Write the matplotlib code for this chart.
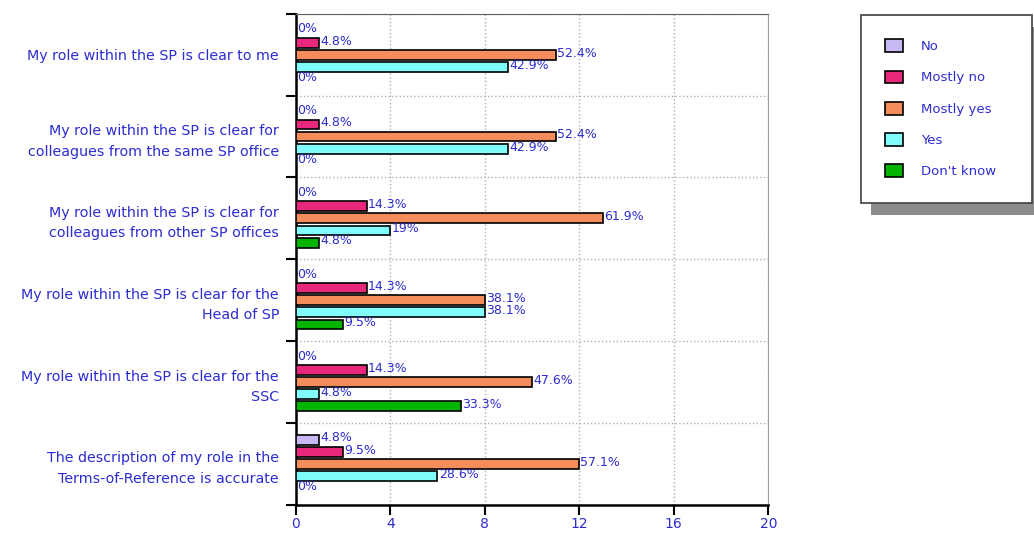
import numpy as np
import matplotlib
matplotlib.use('Agg')
import matplotlib.pyplot as plt
from matplotlib.patches import Rectangle

plt.rcParams['font.family'] = ['DejaVu Sans']

categories = [
    'My role within the SP is clear to me',
    'My role within the SP is clear for\ncolleagues from the same SP office',
    'My role within the SP is clear for\ncolleagues from other SP offices',
    'My role within the SP is clear for the\nHead of SP',
    'My role within the SP is clear for the\nSSC',
    'The description of my role in the\nTerms-of-Reference is accurate',
]
series_names = ['No', 'Mostly no', 'Mostly yes', 'Yes', "Don't know"]
# counts of respondents (21 in total)
no_vals = [0, 0, 0, 0, 0, 1]
mostly_no_vals = [1, 1, 3, 3, 3, 2]
mostly_yes_vals = [11, 11, 13, 8, 10, 12]
yes_vals = [9, 9, 4, 8, 1, 6]
dont_know_vals = [0, 0, 1, 2, 7, 0]
total = 21
xticks = [0, 4, 8, 12, 16, 20]

colors = ['#c8b8f4', '#e8287c', '#f48c5c', '#80fcfc', '#00b400']
txt_col = '#2c2cd0'

series = [no_vals, mostly_no_vals, mostly_yes_vals, yes_vals, dont_know_vals]

fig = plt.figure(figsize=(10.34, 5.33), dpi=100)
ax = fig.add_axes([0.286, 0.053, 0.457, 0.921])

y = np.arange(len(categories))
step = 0.148
h = 0.12

for j, vals in enumerate(series):
    pos = y + (j - 2) * step
    ax.barh(pos, vals, height=h, color=colors[j], edgecolor='black', linewidth=1.2,
            label=series_names[j], zorder=3)
    for p, v in zip(pos, vals):
        pct = '%.1f' % (100.0 * v / total)
        if pct.endswith('.0'):
            pct = pct[:-2]
        ax.text(v + 0.05, p - 0.02, pct + '%', color=txt_col, fontsize=9,
                va='center', ha='left', zorder=4)

ax.set_xlim(0, 20)
ax.set_ylim(len(categories) - 0.5, -0.5)
ax.set_xticks(xticks)
ax.set_xticklabels([str(t) for t in xticks], color=txt_col, fontsize=10)
ax.set_yticks(y)
ax.set_yticklabels(categories, color=txt_col, fontsize=10.3, ha='right',
                   linespacing=1.6)
ax.tick_params(axis='y', length=0, pad=12)
ax.set_yticks(np.arange(len(categories) + 1) - 0.5, minor=True)
ax.tick_params(axis='y', which='minor', length=7, width=1.5, direction='out')
ax.tick_params(axis='x', length=7, width=1.5, direction='out', pad=2)

ax.grid(axis='x', linestyle=':', color='#b0b0b0', linewidth=1, zorder=0)
ax.grid(axis='y', which='minor', linestyle=':', color='#b0b0b0', linewidth=1, zorder=0)

ax.spines['left'].set_linewidth(1.8)
ax.spines['bottom'].set_linewidth(1.8)
ax.spines['top'].set_color('#606060')
ax.spines['right'].set_color('#a0a0a0')

leg_x0, leg_w = 861 / 1034, 171 / 1034
leg = fig.legend(loc='upper left', bbox_to_anchor=(leg_x0, 0, leg_w, 1 - 15 / 533),
                 mode='expand', frameon=True, fancybox=False, framealpha=1,
                 edgecolor='#404040', fontsize=9.5, handlelength=1.3,
                 handleheight=1.1, labelspacing=1.32, borderpad=1.85,
                 handletextpad=1.4, borderaxespad=0)
for t in leg.get_texts():
    t.set_color(txt_col)
leg.get_frame().set_linewidth(1.2)
leg.set_zorder(5)

# drop shadow behind the legend box
fig.canvas.draw()
bb = leg.get_window_extent().transformed(fig.transFigure.inverted())
fig.patches.append(Rectangle((bb.x0 + 10 / 1034, bb.y0 - 12 / 533), bb.width, bb.height,
                             transform=fig.transFigure, facecolor='#8c8c8c',
                             edgecolor='none', zorder=1))

fig.savefig('out.png', dpi=100)
